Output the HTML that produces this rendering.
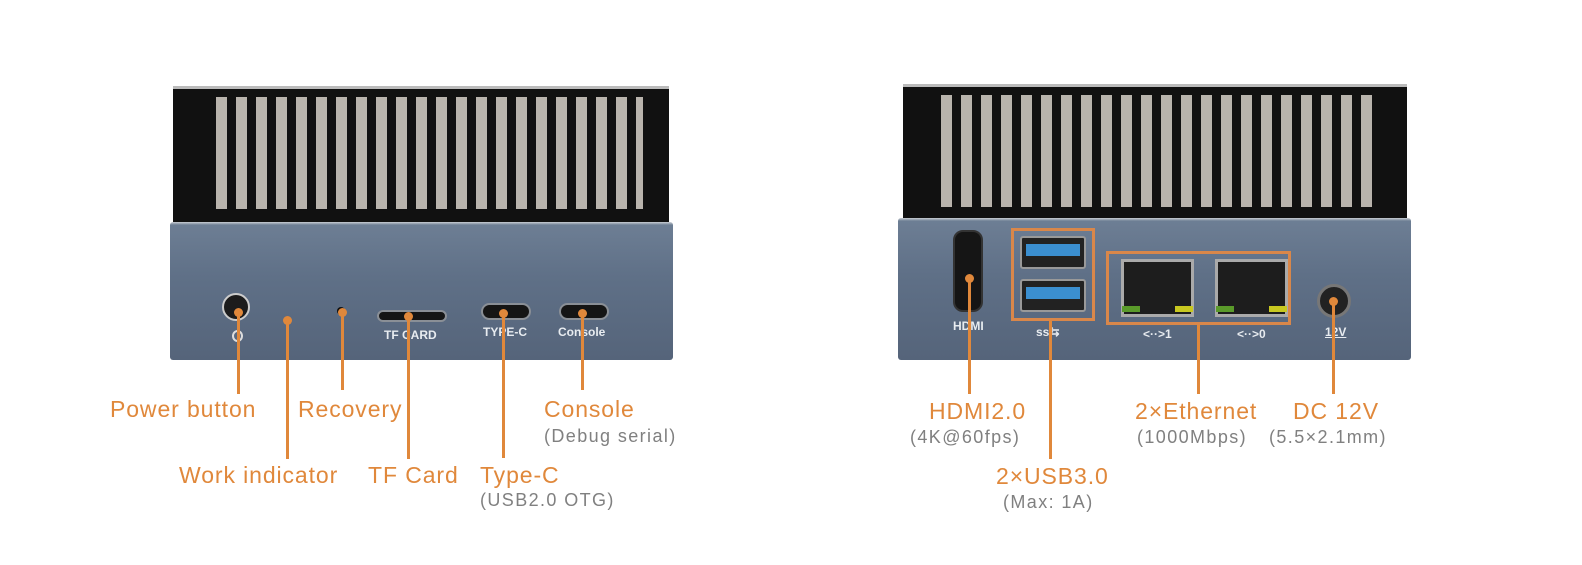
<!DOCTYPE html>
<html><head><meta charset="utf-8"><style>
body{margin:0;width:1582px;height:565px;background:#fff;position:relative;overflow:hidden;font-family:"Liberation Sans",sans-serif}
div{position:absolute;box-sizing:border-box}
.hs{background:#111;border-top:3px solid #bbb}
.sl{background:repeating-linear-gradient(90deg,#111 0 9px,#b9b4ad 9px 20px)}
.pn{background:linear-gradient(180deg,#c9ced4 0,#6d7e94 3px,#5f7087 40%,#55647a 100%);border-radius:3px}
.ln{background:#e0883b;width:3px}
.dot{width:9px;height:9px;border-radius:50%;background:#e0883b}
.o{color:#e0883b;font-size:23px;letter-spacing:.9px;white-space:nowrap}
.g{color:#808080;font-size:18px;white-space:nowrap;letter-spacing:1.4px}
.w{color:#e8ecf0;font-size:12px;font-weight:bold;white-space:nowrap}
.port{background:#151515;border:2px solid #8a8f96}
.bx{border:3px solid #d9874a}
</style></head><body>
<!-- left device -->
<div class="hs" style="left:173px;top:86px;width:496px;height:138px"></div>
<div class="sl" style="left:207px;top:97px;width:436px;height:112px"></div>
<div class="pn" style="left:170px;top:222px;width:503px;height:138px"></div>
<div style="left:222px;top:293px;width:28px;height:28px;border-radius:50%;background:#1c1c1c;border:2px solid #ccc"></div>
<div style="left:232px;top:330px;width:11px;height:12px;border:2px solid #ddd;border-radius:50%"></div>
<div style="left:337px;top:307px;width:8px;height:8px;border-radius:50%;background:#111"></div>
<div class="port" style="left:377px;top:310px;width:70px;height:12px;border-radius:6px"></div>
<div class="w" style="left:384px;top:328px">TF CARD</div>
<div class="port" style="left:481px;top:303px;width:50px;height:17px;border-radius:9px"></div>
<div class="w" style="left:483px;top:325px">TYPE-C</div>
<div class="port" style="left:559px;top:303px;width:50px;height:17px;border-radius:9px"></div>
<div class="w" style="left:558px;top:325px">Console</div>
<div class="dot" style="left:234px;top:308px"></div><div class="ln" style="left:237px;top:312px;height:82px"></div>
<div class="dot" style="left:283px;top:316px"></div><div class="ln" style="left:286px;top:320px;height:139px"></div>
<div class="dot" style="left:338px;top:308px"></div><div class="ln" style="left:341px;top:312px;height:78px"></div>
<div class="dot" style="left:404px;top:312px"></div><div class="ln" style="left:407px;top:316px;height:143px"></div>
<div class="dot" style="left:499px;top:309px"></div><div class="ln" style="left:502px;top:313px;height:145px"></div>
<div class="dot" style="left:578px;top:309px"></div><div class="ln" style="left:581px;top:313px;height:77px"></div>
<div class="o" style="left:110px;top:396px">Power button</div>
<div class="o" style="left:298px;top:396px">Recovery</div>
<div class="o" style="left:544px;top:396px">Console</div>
<div class="g" style="left:544px;top:426px">(Debug serial)</div>
<div class="o" style="left:179px;top:462px">Work indicator</div>
<div class="o" style="left:368px;top:462px">TF Card</div>
<div class="o" style="left:480px;top:462px">Type-C</div>
<div class="g" style="left:480px;top:490px">(USB2.0 OTG)</div>
<!-- right device -->
<div class="hs" style="left:903px;top:84px;width:504px;height:136px"></div>
<div class="sl" style="left:932px;top:95px;width:440px;height:112px"></div>
<div class="pn" style="left:898px;top:218px;width:513px;height:142px"></div>
<div class="port" style="left:953px;top:230px;width:30px;height:82px;border-radius:10px;border-color:#333"></div>
<div class="w" style="left:953px;top:319px">HDMI</div>
<div class="bx" style="left:1011px;top:228px;width:84px;height:93px"></div>
<div style="left:1020px;top:236px;width:66px;height:33px;background:#222;border:2px solid #999;border-radius:3px"><div style="left:4px;top:6px;width:54px;height:12px;background:#3b8fd0"></div></div>
<div style="left:1020px;top:279px;width:66px;height:33px;background:#222;border:2px solid #999;border-radius:3px"><div style="left:4px;top:6px;width:54px;height:12px;background:#3b8fd0"></div></div>
<div class="w" style="left:1036px;top:325px">ss⇆</div>
<div class="bx" style="left:1106px;top:251px;width:185px;height:74px"></div>
<div style="left:1121px;top:259px;width:73px;height:58px;background:#1d1d1d;border:3px solid #aaa"><div style="left:-2px;top:44px;width:18px;height:6px;background:#5a9a2a"></div><div style="left:51px;top:44px;width:18px;height:6px;background:#c8c820"></div></div>
<div style="left:1215px;top:259px;width:73px;height:58px;background:#1d1d1d;border:3px solid #aaa"><div style="left:-2px;top:44px;width:18px;height:6px;background:#5a9a2a"></div><div style="left:51px;top:44px;width:18px;height:6px;background:#c8c820"></div></div>
<div class="w" style="left:1143px;top:327px">&lt;··&gt;1</div>
<div class="w" style="left:1237px;top:327px">&lt;··&gt;0</div>
<div style="left:1317px;top:284px;width:34px;height:34px;border-radius:50%;background:#222;border:3px solid #777"></div>
<div class="w" style="left:1325px;top:325px;text-decoration:underline">12V</div>
<div class="dot" style="left:965px;top:274px"></div><div class="ln" style="left:968px;top:278px;height:116px"></div>
<div class="ln" style="left:1049px;top:321px;height:138px"></div>
<div class="ln" style="left:1197px;top:325px;height:69px"></div>
<div class="dot" style="left:1329px;top:297px"></div><div class="ln" style="left:1332px;top:301px;height:93px"></div>
<div class="o" style="left:929px;top:398px">HDMI2.0</div>
<div class="g" style="left:910px;top:427px">(4K@60fps)</div>
<div class="o" style="left:1135px;top:398px">2×Ethernet</div>
<div class="g" style="left:1137px;top:427px">(1000Mbps)</div>
<div class="o" style="left:1293px;top:398px">DC 12V</div>
<div class="g" style="left:1269px;top:427px">(5.5×2.1mm)</div>
<div class="o" style="left:996px;top:463px">2×USB3.0</div>
<div class="g" style="left:1003px;top:492px">(Max: 1A)</div>
</body></html>
